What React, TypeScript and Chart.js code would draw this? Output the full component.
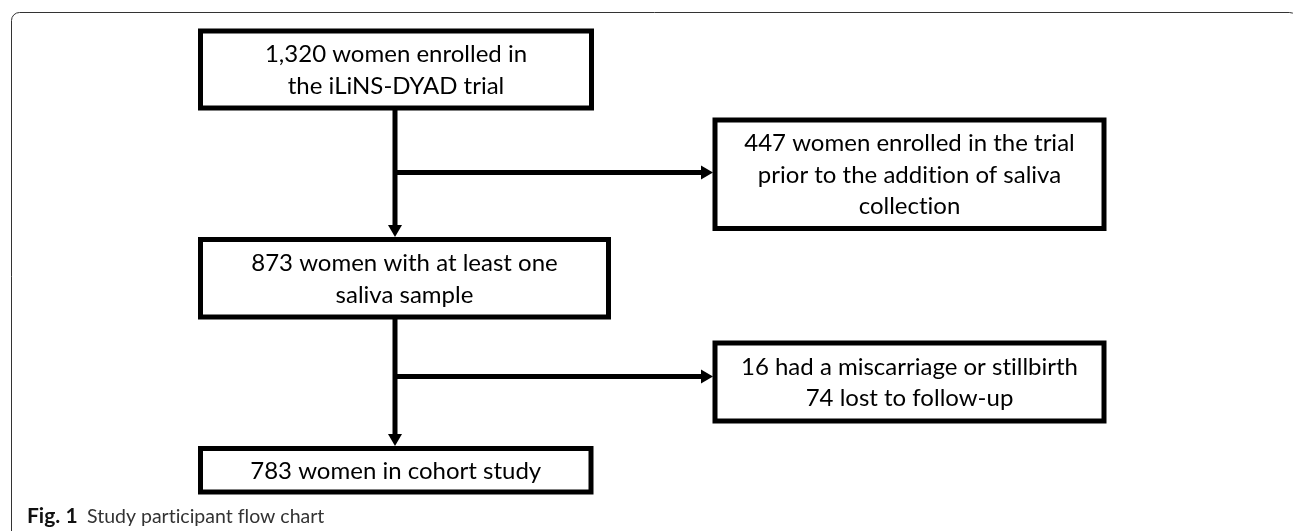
import React, { useEffect, useRef } from "react";
import { Chart, registerables } from "chart.js";

Chart.register(...registerables);

// ---- Flow chart content ----
const nodeLines: string[][] = [
  ["1,320 women enrolled in", "the iLiNS-DYAD trial"],
  ["873 women with at least one", "saliva sample"],
  ["783 women in cohort study"],
  ["447 women enrolled in the trial", "prior to the addition of saliva", "collection"],
  ["16 had a miscarriage or stillbirth", "74 lost to follow-up"],
];

// node frame (in layout units of the chart's x / y scales)
const nodeLeft = [200.5, 200.5, 200.5, 715, 715];
const nodeRight = [591.5, 608.5, 591, 1104, 1104];
const nodeTop = [31, 239.5, 448.5, 120, 343];
const nodeBottom = [108, 317, 492, 228.5, 421];

// connectors: start -> arrow tip
const connStartX = [395, 395, 395, 395];
const connStartY = [108, 172.5, 317, 376.5];
const connEndX = [395, 713, 395, 713];
const connEndY = [237, 172.5, 446, 376.5];

const captionLabel = "Fig. 1";
const captionText = "Study participant flow chart";

const W = 1293;
const H = 531;
const ARROW_LEN = 12;
const ARROW_HALF = 7;
const FONT = "Lato";

const flowPlugin = {
  id: "flow",
  beforeDatasetsDraw(chart: any) {
    const { ctx, scales } = chart;
    const x = scales.x;
    const y = scales.y;
    ctx.save();
    // outer frame
    ctx.strokeStyle = "#333";
    ctx.lineWidth = 1;
    const fl = x.getPixelForValue(11.5);
    const ft = y.getPixelForValue(12.5);
    const fr = x.getPixelForValue(1297.5);
    const r = 8;
    ctx.beginPath();
    ctx.moveTo(fl, y.getPixelForValue(H + 5));
    ctx.lineTo(fl, ft + r);
    ctx.arcTo(fl, ft, fl + r, ft, r);
    ctx.lineTo(fr - r, ft);
    ctx.arcTo(fr, ft, fr, ft + r, r);
    ctx.lineTo(fr, y.getPixelForValue(H + 5));
    ctx.stroke();
    ctx.restore();
  },
  afterDatasetsDraw(chart: any) {
    const { ctx, scales } = chart;
    const x = scales.x;
    const y = scales.y;
    ctx.save();
    try {
      (ctx as any).textRendering = "optimizeSpeed";
    } catch (e) {}
    // arrow heads
    ctx.fillStyle = "#000";
    for (let i = 0; i < connEndX.length; i++) {
      const tx = x.getPixelForValue(connEndX[i]);
      const ty = y.getPixelForValue(connEndY[i]);
      const dx = Math.sign(connEndX[i] - connStartX[i]);
      const dy = Math.sign(connEndY[i] - connStartY[i]);
      ctx.beginPath();
      ctx.moveTo(tx, ty);
      ctx.lineTo(tx - dx * ARROW_LEN - dy * ARROW_HALF, ty - dy * ARROW_LEN - dx * ARROW_HALF);
      ctx.lineTo(tx - dx * ARROW_LEN + dy * ARROW_HALF, ty - dy * ARROW_LEN + dx * ARROW_HALF);
      ctx.closePath();
      ctx.fill();
    }
    // boxes
    ctx.lineWidth = 5;
    ctx.strokeStyle = "#000";
    ctx.lineJoin = "miter";
    for (let i = 0; i < nodeLines.length; i++) {
      const l = x.getPixelForValue(nodeLeft[i]);
      const rr = x.getPixelForValue(nodeRight[i]);
      const t = y.getPixelForValue(nodeTop[i]);
      const b = y.getPixelForValue(nodeBottom[i]);
      ctx.fillStyle = "#fff";
      ctx.fillRect(l, t, rr - l, b - t);
      ctx.strokeRect(l, t, rr - l, b - t);
      ctx.fillStyle = "#000";
      ctx.font = `24px ${FONT}`;
      ctx.textAlign = "center";
      ctx.textBaseline = "alphabetic";
      const cap = ctx.measureText("H").actualBoundingBoxAscent;
      const lines = nodeLines[i];
      const spacing = 31.5;
      const cy = (t + b) / 2;
      const cx = (l + rr) / 2;
      lines.forEach((s, k) => {
        const lc = cy + (k - (lines.length - 1) / 2) * spacing;
        ctx.fillText(s, cx, lc + cap / 2);
      });
    }
    // caption
    ctx.textAlign = "left";
    ctx.textBaseline = "alphabetic";
    ctx.fillStyle = "#111";
    ctx.font = `bold 21px ${FONT}`;
    ctx.fillText(captionLabel, x.getPixelForValue(27), y.getPixelForValue(522.5));
    ctx.fillStyle = "#333";
    ctx.font = `19.5px ${FONT}`;
    ctx.fillText(captionText, x.getPixelForValue(87), y.getPixelForValue(522.5));
    ctx.restore();
  },
};

export default function App() {
  const ref = useRef<HTMLCanvasElement | null>(null);
  useEffect(() => {
    if (!ref.current) return;
    const datasets = connStartX.map((sx, i) => {
      const dx = Math.sign(connEndX[i] - sx);
      const dy = Math.sign(connEndY[i] - connStartY[i]);
      return {
        label: `connector ${i + 1}`,
        data: [
          { x: sx, y: connStartY[i] },
          { x: connEndX[i] - dx * ARROW_LEN, y: connEndY[i] - dy * ARROW_LEN },
        ],
        showLine: true,
        borderColor: "#000",
        borderWidth: 5,
        pointRadius: 0,
        borderCapStyle: "butt" as const,
      };
    });
    const chart = new Chart(ref.current, {
      type: "scatter",
      data: { datasets },
      options: {
        animation: false,
        responsive: false,
        layout: { padding: 0 },
        events: [],
        plugins: { legend: { display: false }, tooltip: { enabled: false }, title: { display: false } },
        scales: {
          x: { type: "linear", min: 0, max: W, display: false },
          y: { type: "linear", min: 0, max: H, reverse: true, display: false },
        },
      },
      plugins: [flowPlugin],
    });
    return () => chart.destroy();
  }, []);
  return (
    <div style={{ position: "absolute", left: 0, top: 0, width: W, height: H, background: "#fff" }}>
      <canvas ref={ref} width={W} height={H} style={{ display: "block" }} />
    </div>
  );
}
